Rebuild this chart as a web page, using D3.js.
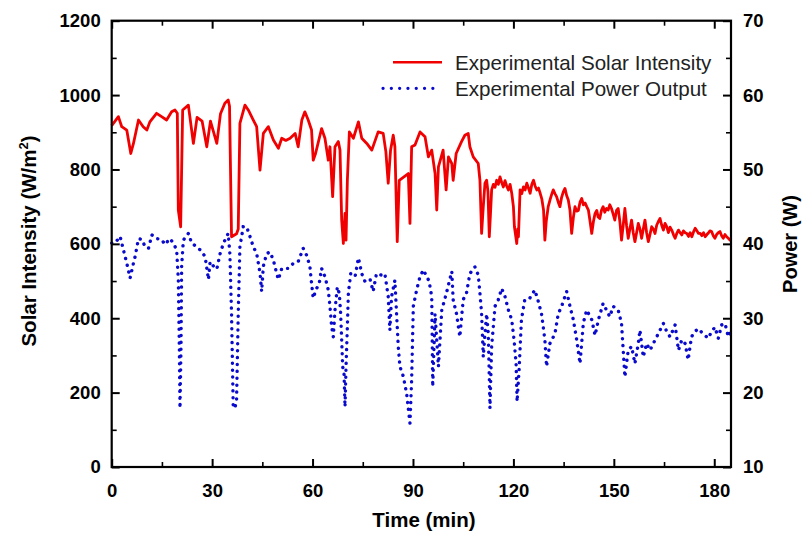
<!DOCTYPE html>
<html>
<head>
<meta charset="utf-8">
<script src="https://cdn.jsdelivr.net/npm/d3@7"></script>
<style>
  html, body { margin: 0; padding: 0; background: #fff; }
  svg { display: block; font-family: "Liberation Sans", Arial, sans-serif; }
</style>
</head>
<body>
<svg id="chart" width="803" height="542"></svg>
<script>
// ---- Data ----
const solarTime = [0,2,3,4.5,5.7,6.5,8,9.4,10.5,11.4,13.4,14.9,16.4,17.9,18.9,19.6,19.9,20.6,21.2,22.9,24.4,25.5,27,28.4,29.5,31.4,32.5,33.8,34.8,35.2,35.8,37.3,37.8,38.3,39.8,40.8,42.3,43.3,44.3,45.3,46.8,48.3,49.8,50.8,52,53.3,54.8,55.7,56.8,57.7,58.7,59.7,60.2,60.9,62.7,63.7,64.7,65.2,66,66.7,67.7,68.2,68.7,69.2,69.7,70,70.4,71,72.2,73.7,74.7,76.2,77.7,79.6,81.1,81.9,82.6,83.3,84.1,84.6,85.3,85.9,88.6,89.1,89.6,90.6,92.1,93.6,94.6,95.6,96.6,97.1,97.6,99,99.9,100.6,101.6,102,102.9,104.5,105.5,106.5,107,108,109.5,
  110,110.5,111,111.5,112,112.4,112.8,113.2,113.5,114,114.5,115,115.5,116,116.5,117,117.5,118,118.5,119,119.5,120,120.3,120.7,121,121.3,121.5,122,122.5,123,123.5,124,124.5,125,125.5,126,126.5,127,127.5,128,128.5,129,129.4,129.8,130.4,131,131.5,131.9,132.4,132.9,133.4,133.9,134.4,134.9,135.4,135.9,136.4,136.9,137.4,137.9,138.4,138.9,139.4,139.9,140.4,140.9,141.4,141.9,142.4,142.9,143.4,143.9,144.4,144.9,145.3,145.8,146.3,146.8,147.3,147.8,148.3,148.8,149.3,149.8,150.3,150.8,151.3,151.8,152.3,152.8,153.3,153.8,154.3,154.8,155.3,155.8,156.3,156.8,157.3,157.8,158.3,158.8,159.3,159.8,160.3,160.8,161.3,161.8,162.3,162.8,163.3,163.8,164.3,164.8,165.3,165.8,166.3,166.8,167.3,167.8,168.3,168.8,169.3,169.8,170.3,170.8,171.3,171.8,172.3,172.8,173.3,173.8,174.3,174.8,175.3,175.8,176.3,176.8,177.3,177.8,178.3,178.7,179.2,179.7,180.2,180.7,181.2,181.7,182.2,182.7,183.2,183.7,184.2,184.7,185];
const solarIntensity = [918,942,915,906,843,870,933,915,906,928,951,942,933,955,960,951,691,646,960,973,870,940,930,861,930,870,950,978,987,970,619,627,640,924,973,960,933,915,798,897,915,879,857,884,878,884,897,861,933,955,933,906,825,843,910,884,825,861,727,861,875,852,664,601,682,610,771,901,884,928,884,870,852,901,897,848,763,852,892,861,606,771,789,655,861,866,901,888,834,852,789,691,807,852,745,834,816,771,843,875,892,897,861,834,816,
  771,628,700,763,771,740,619,690,745,760,752,771,760,780,765,753,770,755,745,760,736,700,646,620,601,640,619,745,735,753,745,763,750,736,760,771,755,745,750,736,720,691,610,660,700,720,735,745,735,727,712,700,725,740,749,730,718,690,628,670,700,688,690,712,722,705,710,700,691,660,628,660,682,690,672,668,690,700,685,695,691,705,695,680,664,690,695,660,610,650,695,650,615,640,664,630,606,630,655,640,615,640,664,630,606,625,646,640,628,650,660,668,650,637,655,646,630,645,637,625,615,628,637,630,624,635,630,628,620,630,619,632,642,635,628,628,622,630,619,625,630,635,633,622,615,625,630,633,622,615,625,619,615,610,612];

const powerTime = [0,1,2.5,3.5,4.5,5.5,6.5,7,8,9,10,11,12,13.4,14.9,15.9,17.4,18.4,19.4,19.9,20.2,20.4,20.7,20.9,21.4,22.9,23.9,25.4,26.4,27.9,28.9,29.4,30.4,31.4,32.4,33.4,34.8,35.3,35.8,36.3,36.8,37.3,37.8,38.3,39.3,40.3,41.3,42.3,43.3,44.3,44.8,45.3,46.3,47.3,48.3,49.3,49.8,50.8,52.8,54.3,55.7,57.2,58.2,59.2,59.7,60.2,61,62,62.7,63.7,64.7,65.2,65.7,66.2,66.7,67.4,68,68.4,68.7,69,69.4,69.7,70,70.4,70.7,71.4,72.7,73.7,74.7,75.7,77.2,78.1,79.1,80.6,81.6,82.6,83.1,83.6,84.6,85.1,85.6,86.1,87.1,88.1,89.1,89.6,90.1,91.1,92.1,93.1,94.1,94.8,95.6,95.9,96.6,97.6,98.6,100,101.6,102,103,104,105,106,107,108.5,109.5,110,110.5,111,111.5,112,112.5,113,113.5,114.5,115.5,116.5,117.5,118.5,119.5,120.2,120.8,121.1,121.7,122.4,123.4,124.9,126.4,127.4,128.4,129.4,129.9,130.9,132.4,133.4,134.4,135.9,136.9,137.9,138.9,139.9,140.9,141.9,143.4,144.4,145.4,146.8,147.8,148.8,149.8,151.3,152.3,152.8,153.3,154.3,155.3,156.3,157.3,157.8,158.8,159.8,160.8,161.8,162.8,163.8,164.8,165.8,166.8,168.3,169.3,170.3,171.3,172.2,173.2,174.2,175.2,176.7,178.2,179.2,180.2,181.2,182.2,183.2,184.2,185];
const powerOutput = [40.1,40.1,41,39.2,37.4,35.4,37.4,38.3,40.7,40.6,39.6,39.4,41.2,40.7,40.6,39.9,40.7,40.1,39.2,35.2,26.2,17.9,26,37,40.5,41.4,40.1,39.6,39.2,38.3,35.2,37.6,37,36.6,38.7,40.1,41.4,38.7,30.6,18.1,17.9,19,30.6,39.6,42.3,42.3,41,39.6,38.7,36.1,33.6,37,38.7,38.9,37.8,36,35.2,36.7,36.7,37.4,37.6,39.4,38.5,37,34.7,32.7,33.8,34.7,36.7,35.6,33.8,31.6,28.9,27.5,31.1,34.2,33.3,30.6,27.1,23.5,22.6,18.1,23.5,28.9,33.4,36,35.6,38.1,36,34.9,35.2,33.6,36,35.8,36,32.9,28.4,32.9,35.1,30.6,26.2,23.5,22.2,19.9,15.9,21.7,31.6,33.8,35.6,36.5,35.6,35,32.9,20.8,30.6,23.5,31.1,33.4,36.3,32.5,30.6,27.5,32.5,33.4,36,36.9,35.8,33.4,30.6,24.8,27.9,30.6,27.9,17.9,26.2,31.6,32.5,34,32.9,31.1,29.8,27.1,23.9,18.8,23.1,29.8,32.5,32.7,33.8,32.3,30.6,27.1,23.5,26.6,27.9,30.6,31.6,33.6,31.6,29.8,27.1,23.9,29.4,31.1,29.8,27.7,29.8,32,31.1,30.2,31.6,31.1,29.3,25.7,22.1,25.7,26.2,23.9,26.6,28.4,24.8,26.6,25.7,26.6,27.5,28.4,29.3,28.2,27.5,29.1,25.7,27.1,26.6,24.4,27.5,28.2,28.6,27.9,27.3,28.2,28.8,27.3,29.1,29.3,27.5,28.4];

const xTicks = [0,30,60,90,120,150,180];
const xMinorTicks = [15,45,75,105,135,165];
const yLeftTicks = [0,200,400,600,800,1000,1200];
const yLeftMinorTicks = [100,300,500,700,900,1100];
const yRightTicks = [10,20,30,40,50,60,70];
const yRightMinorTicks = [15,25,35,45,55,65];
const seriesNames = ["Experimental Solar Intensity", "Experimental Power Output"];

// ---- Layout ----
const svg = d3.select("#chart");
const L = 111.7, R = 731, T = 20.7, B = 467;
const x = d3.scaleLinear().domain([0,185]).range([L,R]);
const yL = d3.scaleLinear().domain([0,1200]).range([B,T]);
const yR = d3.scaleLinear().domain([10,70]).range([B,T]);
const fmt = d3.format("d");
const tickFont = 18.5;

// ---- Data lines ----
const n1 = Math.min(solarTime.length, solarIntensity.length);
const solarData = d3.range(n1).map(i=>({t: solarTime[i], v: solarIntensity[i]}));
const n2 = Math.min(powerTime.length, powerOutput.length);
const powerData = d3.range(n2).map(i=>({t: powerTime[i], v: powerOutput[i]}));

svg.append("path")
  .datum(solarData)
  .attr("fill","none")
  .attr("stroke","#f00000")
  .attr("stroke-width",2.8)
  .attr("stroke-linejoin","round")
  .attr("d", d3.line().x(d=>x(d.t)).y(d=>yL(d.v)));

svg.append("path")
  .datum(powerData)
  .attr("fill","none")
  .attr("stroke","#0a0acc")
  .attr("stroke-width",3.4)
  .attr("stroke-linecap","round")
  .attr("stroke-dasharray","0.1,6.8")
  .attr("d", d3.line().x(d=>x(d.t)).y(d=>yR(d.v)));

// ---- Axes ----
function styleAxis(g, w) {
  g.select(".domain").remove();
  g.selectAll(".tick line").attr("stroke","#000").attr("stroke-width",w);
  g.selectAll(".tick text").attr("fill","#000").attr("font-size",tickFont).attr("font-weight","bold")
   .attr("font-family",'"Liberation Sans", Arial, sans-serif');
}

svg.append("g").attr("transform",`translate(0,${B})`)
  .call(d3.axisBottom(x).tickValues(xTicks).tickFormat(fmt).tickSizeInner(-8).tickSizeOuter(0).tickPadding(17))
  .call(g=>styleAxis(g,2));
svg.append("g").attr("transform",`translate(0,${B})`)
  .call(d3.axisBottom(x).tickValues(xMinorTicks).tickSizeInner(-5).tickSizeOuter(0).tickFormat(""))
  .call(g=>styleAxis(g,1.6));
svg.append("g").attr("transform",`translate(0,${T})`)
  .call(d3.axisTop(x).tickValues(xTicks).tickSizeInner(-8).tickSizeOuter(0).tickFormat(""))
  .call(g=>styleAxis(g,2));
svg.append("g").attr("transform",`translate(0,${T})`)
  .call(d3.axisTop(x).tickValues(xMinorTicks).tickSizeInner(-5).tickSizeOuter(0).tickFormat(""))
  .call(g=>styleAxis(g,1.6));
svg.append("g").attr("transform",`translate(${L},0)`)
  .call(d3.axisLeft(yL).tickValues(yLeftTicks).tickFormat(fmt).tickSizeInner(-8).tickSizeOuter(0).tickPadding(11))
  .call(g=>styleAxis(g,2));
svg.append("g").attr("transform",`translate(${L},0)`)
  .call(d3.axisLeft(yL).tickValues(yLeftMinorTicks).tickSizeInner(-5).tickSizeOuter(0).tickFormat(""))
  .call(g=>styleAxis(g,1.6));
svg.append("g").attr("transform",`translate(${R},0)`)
  .call(d3.axisRight(yR).tickValues(yRightTicks).tickFormat(fmt).tickSizeInner(-8).tickSizeOuter(0).tickPadding(12))
  .call(g=>styleAxis(g,2));
svg.append("g").attr("transform",`translate(${R},0)`)
  .call(d3.axisRight(yR).tickValues(yRightMinorTicks).tickSizeInner(-5).tickSizeOuter(0).tickFormat(""))
  .call(g=>styleAxis(g,1.6));

svg.append("rect").attr("x",L).attr("y",T).attr("width",R-L).attr("height",B-T)
  .attr("fill","none").attr("stroke","#000").attr("stroke-width",2.2);

// ---- Axis titles ----
svg.append("text").attr("x",424).attr("y",527).attr("text-anchor","middle")
  .attr("font-size",20.5).attr("font-weight","bold").text("Time (min)");

const yt = svg.append("text").attr("transform","translate(36,241) rotate(-90)")
  .attr("text-anchor","middle").attr("font-size",20.5).attr("font-weight","bold");
yt.append("tspan").text("Solar Intensity (W/m");
yt.append("tspan").attr("font-size",13).attr("dy",-8).text("2");
yt.append("tspan").attr("dy",8).text(")");

svg.append("text").attr("transform","translate(797,244) rotate(-90)")
  .attr("text-anchor","middle").attr("font-size",20).attr("font-weight","bold").text("Power (W)");

// ---- Legend ----
const leg = svg.append("g");
leg.append("line").attr("x1",393).attr("x2",442).attr("y1",62.3).attr("y2",62.3)
  .attr("stroke","#f00000").attr("stroke-width",2.6);
leg.append("line").attr("x1",383).attr("x2",433).attr("y1",88.3).attr("y2",88.3)
  .attr("stroke","#0a0acc").attr("stroke-width",3.2).attr("stroke-linecap","round")
  .attr("stroke-dasharray","0.1,8.2");
leg.append("text").attr("x",455).attr("y",69.5).attr("font-size",20.6).attr("fill","#222").text(seriesNames[0]);
leg.append("text").attr("x",455).attr("y",95.5).attr("font-size",20.6).attr("fill","#222").text(seriesNames[1]);
</script>
</body>
</html>
